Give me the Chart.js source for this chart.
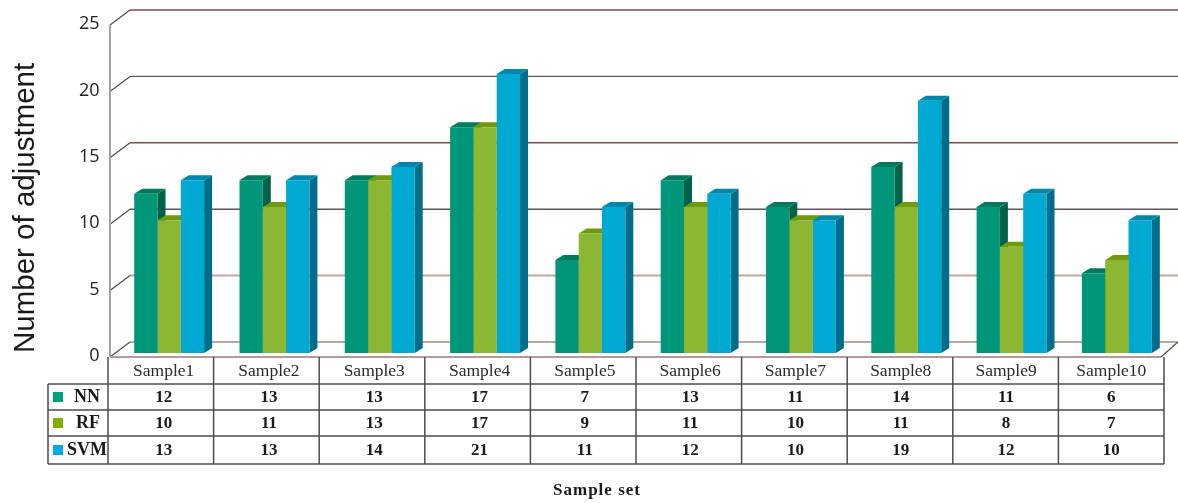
<!DOCTYPE html>
<html lang="en">
<head>
  <meta charset="UTF-8">
  <title>Number of adjustment per sample set</title>
  <script src="https://cdn.jsdelivr.net/npm/chart.js"></script>
  <style>
    html, body { margin: 0; padding: 0; background: #fff; overflow: hidden; }
    canvas { display: block; }
  </style>
</head>
<body>
  <canvas id="chart" width="1178" height="503"></canvas>

  <script>
    const categories = ['Sample1', 'Sample2', 'Sample3', 'Sample4', 'Sample5', 'Sample6', 'Sample7', 'Sample8', 'Sample9', 'Sample10'];
    const nnValues = [12, 13, 13, 17, 7, 13, 11, 14, 11, 6];
    const rfValues = [10, 11, 13, 17, 9, 11, 10, 11, 8, 7];
    const svmValues = [13, 13, 14, 21, 11, 12, 10, 19, 12, 10];
    const xTitle = 'Sample set';

    // front, side, top and legend swatch colours
    const nnColors = ['#00967a', '#00624a', '#007a5c', '#00a07f'];
    const rfColors = ['#8db733', '#5f8a10', '#6f9a0c', '#7fb000'];
    const svmColors = ['#00a9d2', '#006d8b', '#0087aa', '#00adec'];
    // back wall lines, from 0 up to 25
    const gridColors = ['#b9a89c', '#c4a59c', '#5c5458', '#7c4a4c', '#6d5560', '#84454a'];

    const DEPTH_X = 8, DEPTH_Y = 5;       // depth of a bar
    const WALL_X = 20, WALL_Y = 11;       // depth of the back wall
    const AXIS_X = 110, FLOOR_DROP = 4;   // front edge of the walls
    const RIGHT_X = 1161;
    const rowLines = [384, 410, 436, 464];
    const TABLE_LEFT = 48, HEAD_LEFT = 108, COL_WIDTH = 105.6;

    function line(ctx, x1, y1, x2, y2, color, width) {
      ctx.strokeStyle = color;
      ctx.lineWidth = width;
      ctx.beginPath();
      ctx.moveTo(x1, y1);
      ctx.lineTo(x2, y2);
      ctx.stroke();
    }

    function poly(ctx, pts, color) {
      ctx.fillStyle = color;
      ctx.beginPath();
      pts.forEach((p, i) => i ? ctx.lineTo(p[0], p[1]) : ctx.moveTo(p[0], p[1]));
      ctx.closePath();
      ctx.fill();
    }

    const walls3d = {
      id: 'walls3d',
      beforeDatasetsDraw(chart) {
        const ctx = chart.ctx, y = chart.scales.y;
        ctx.save();
        y.ticks.forEach((t, i) => {
          const py = y.getPixelForValue(t.value);
          line(ctx, AXIS_X + WALL_X, py - WALL_Y, 1178, py - WALL_Y, gridColors[i], i < 2 ? 2 : 1.4);
          line(ctx, AXIS_X, py + FLOOR_DROP, AXIS_X + WALL_X, py - WALL_Y, '#4a4a4a', 1.2);
        });
        const top = y.getPixelForValue(25), base = y.getPixelForValue(0);
        line(ctx, AXIS_X, top + FLOOR_DROP, AXIS_X, base + FLOOR_DROP, '#a3a3a3', 2);
        line(ctx, AXIS_X, base + FLOOR_DROP, RIGHT_X, base + FLOOR_DROP, '#b39a9a', 2);
        line(ctx, RIGHT_X, base + FLOOR_DROP, 1178, base - WALL_Y, '#4a4a4a', 1.2);

        // side and top faces; the library paints the fronts over them
        chart.data.datasets.forEach((ds, d) => {
          chart.getDatasetMeta(d).data.forEach(bar => {
            const p = bar.getProps(['x', 'y', 'base', 'width'], true);
            const l = p.x - p.width / 2, r = p.x + p.width / 2;
            poly(ctx, [[r, p.y], [r + DEPTH_X, p.y - DEPTH_Y], [r + DEPTH_X, p.base - DEPTH_Y], [r, p.base]], ds.sideColor);
            poly(ctx, [[l, p.y], [l + DEPTH_X, p.y - DEPTH_Y], [r + DEPTH_X, p.y - DEPTH_Y], [r, p.y]], ds.topColor);
          });
        });
        ctx.restore();
      }
    };

    const dataTable = {
      id: 'dataTable',
      afterDraw(chart) {
        const ctx = chart.ctx, x = chart.scales.x;
        const c = '#4d4d4d';
        ctx.save();
        rowLines.forEach(py => line(ctx, TABLE_LEFT, py, HEAD_LEFT + COL_WIDTH * categories.length, py, c, 1.5));
        line(ctx, TABLE_LEFT, rowLines[0], TABLE_LEFT, rowLines[3], c, 1.5);
        for (let i = 0; i <= categories.length; i++) {
          const px = HEAD_LEFT + COL_WIDTH * i;
          line(ctx, px, rowLines[0] - 27, px, rowLines[3], c, 1.5);
        }
        ctx.textAlign = 'center';
        ctx.textBaseline = 'middle';
        chart.data.datasets.forEach((ds, d) => {
          const mid = (rowLines[d] + rowLines[d + 1]) / 2;
          ctx.fillStyle = ds.swatchColor;
          ctx.fillRect(53, mid - 5, 10, 10);
          ctx.fillStyle = '#1a1a1a';
          ctx.font = 'bold 18px "Liberation Serif"';
          ctx.fillText(ds.label, [87, 88, 87][d], mid);
          ctx.font = 'bold 17px "Liberation Serif"';
          ds.data.forEach((v, i) => ctx.fillText(String(v), x.getPixelForTick(i) - 5.5, mid + 1));
        });
        ctx.font = 'bold 17px "Liberation Serif"';
        ctx.letterSpacing = '1px';
        ctx.fillText(xTitle, 597, 491);
        ctx.restore();
      }
    };

    new Chart(document.getElementById('chart').getContext('2d'), {
      type: 'bar',
      plugins: [walls3d, dataTable],
      data: {
        labels: categories,
        datasets: [
          { label: 'NN', data: nnValues, backgroundColor: nnColors[0], sideColor: nnColors[1], topColor: nnColors[2], swatchColor: nnColors[3] },
          { label: 'RF', data: rfValues, backgroundColor: rfColors[0], sideColor: rfColors[1], topColor: rfColors[2], swatchColor: rfColors[3] },
          { label: 'SVM', data: svmValues, backgroundColor: svmColors[0], sideColor: svmColors[1], topColor: svmColors[2], swatchColor: svmColors[3] }
        ]
      },
      options: {
        responsive: false,
        animation: false,
        events: [],
        layout: { autoPadding: false, padding: { top: 21, right: 8.5, left: 0, bottom: 0 } },
        datasets: { bar: { categoryPercentage: 0.664, barPercentage: 1 } },
        plugins: { legend: { display: false }, title: { display: false }, tooltip: { enabled: false } },
        scales: {
          x: {
            afterFit(s) { s.height = 150; },
            grid: { display: false, drawTicks: false },
            border: { display: false },
            ticks: {
              autoSkip: false, maxRotation: 0, padding: 8, labelOffset: -5.5,
              color: '#2a2a2a', font: { family: '"Liberation Serif"', size: 17.5 }
            }
          },
          y: {
            min: 0, max: 25,
            afterFit(s) { s.width = 116.5; s.paddingTop = 0; s.paddingBottom = 0; },
            grid: { display: false, drawTicks: false },
            border: { display: false },
            ticks: {
              stepSize: 5, padding: 17, labelOffset: 3, color: '#222',
              font: { family: '"Open Sans"', size: 18 }
            },
            title: {
              display: true, text: 'Number of adjustment', align: 'start', color: '#1a1a1a',
              font: { family: '"Liberation Sans"', size: 29.5 },
              padding: { top: 8, bottom: 0 }
            }
          }
        }
      }
    });
  </script>
</body>
</html>
